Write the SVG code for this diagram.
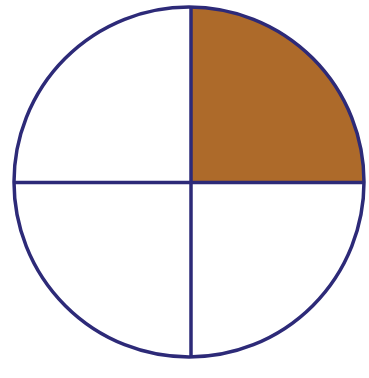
<svg xmlns="http://www.w3.org/2000/svg" width="369" height="378" viewBox="0 0 369 378">
<style>.s{fill:none;stroke:#2d2a78;stroke-width:3.5}</style>
<rect width="369" height="378" fill="#ffffff"/>
<g id="quarter"><path d="M191,182 L191,7 A175,175 0 0 1 364,182 Z" fill="#ad6a2a"/></g>
<g id="circle"><circle class="s" cx="189" cy="182" r="175"/></g>
<g id="connectors">
<line class="s" x1="191" y1="7" x2="191" y2="357"/>
<line class="s" x1="14" y1="182.5" x2="364" y2="182.5"/>
</g>
</svg>
